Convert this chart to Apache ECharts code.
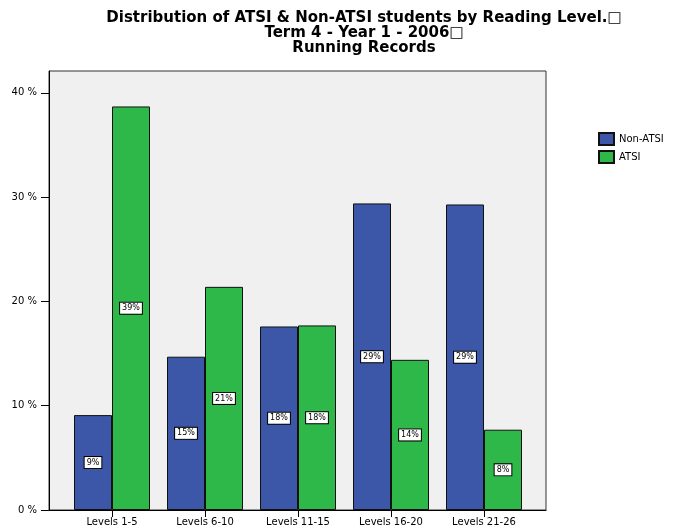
<!DOCTYPE html>
<html>
<head>
<meta charset="utf-8">
<script src="https://cdn.jsdelivr.net/npm/echarts@6/dist/echarts.min.js"></script>
<style>
  html, body { margin: 0; padding: 0; background: #fff; }
  #main { width: 675px; height: 531px; }
</style>
</head>
<body>
<div id="main"></div>
<script>
// 数据
var categories = ['Levels 1-5', 'Levels 6-10', 'Levels 11-15', 'Levels 16-20', 'Levels 21-26'];
var nonAtsi = [9.1, 14.7, 17.6, 29.4, 29.3];
var atsi = [38.7, 21.4, 17.7, 14.4, 7.7];
var yTicks = [0, 10, 20, 30, 40];
var yMax = 42.1;

var barLabel = {
    show: true,
    position: 'inside',
    formatter: function (p) { return Math.round(p.value) + '%'; },
    color: '#000',
    fontFamily: 'DejaVu Sans',
    fontSize: 8,
    backgroundColor: '#fff',
    borderColor: '#000',
    borderWidth: 1,
    padding: [2, 2, 1, 2]
};

var option = {
    animation: false,
    backgroundColor: '#fff',
    graphic: [{
        type: 'text',
        x: 364,
        y: 11,
        style: {
            text: 'Distribution of ATSI & Non-ATSI students by Reading Level.\u25A1\nTerm 4 - Year 1 - 2006\u25A1\nRunning Records',
            textAlign: 'center',
            textVerticalAlign: 'top',
            fontFamily: 'DejaVu Sans',
            fontWeight: 'bold',
            fontSize: 15,
            lineHeight: 15,
            fill: '#000'
        }
    }],
    legend: {
        orient: 'vertical',
        left: 593,
        top: 127,
        itemWidth: 15,
        itemHeight: 12,
        itemGap: 4,
        icon: 'rect',
        data: ['Non-ATSI', 'ATSI'],
        textStyle: { fontFamily: 'DejaVu Sans', fontSize: 10, color: '#000', padding: [0, 0, 0, 0] }
    },
    grid: [
        { left: 49, width: 497, top: 71, bottom: 21, show: true, backgroundColor: '#f0f0f0', borderColor: '#333', borderWidth: 1 },
        { left: 65.5, width: 465, top: 71, bottom: 21 }
    ],
    xAxis: [
        {
            gridIndex: 0, type: 'value', min: 0, max: 1,
            axisLine: { show: true, onZero: false, lineStyle: { color: '#000', width: 1 } },
            axisTick: { show: false }, axisLabel: { show: false }, splitLine: { show: false }
        },
        {
            gridIndex: 1, type: 'category', data: categories,
            axisLine: { show: false },
            axisTick: { show: true, alignWithLabel: true, length: 7, lineStyle: { color: '#000' } },
            axisLabel: { color: '#000', fontFamily: 'DejaVu Sans', fontSize: 10, margin: 7, interval: 0 }
        }
    ],
    yAxis: [
        {
            gridIndex: 0, type: 'value', min: 0, max: yMax, interval: 10,
            axisLine: { show: true, lineStyle: { color: '#000', width: 1 } },
            axisTick: {
                show: true, length: 8, lineStyle: { color: '#000' },
                customValues: yTicks
            },
            axisLabel: {
                color: '#000', fontFamily: 'DejaVu Sans', fontSize: 10, margin: 12,
                customValues: yTicks,
                formatter: function (v) { return v + ' %'; }
            },
            splitLine: { show: false }
        },
        {
            gridIndex: 1, type: 'value', min: 0, max: yMax,
            show: false
        }
    ],
    series: [
        {
            name: 'Non-ATSI', type: 'bar', xAxisIndex: 1, yAxisIndex: 1,
            data: nonAtsi, barWidth: 38, barGap: '0%',
            itemStyle: { color: '#3c56a8', borderColor: '#111', borderWidth: 1 },
            label: barLabel
        },
        {
            name: 'ATSI', type: 'bar', xAxisIndex: 1, yAxisIndex: 1,
            data: atsi, barWidth: 38, barGap: '0%',
            itemStyle: { color: '#2fb84a', borderColor: '#111', borderWidth: 1 },
            label: barLabel
        }
    ]
};

var myChart = echarts.init(document.getElementById('main'));
myChart.setOption(option);
</script>
</body>
</html>
